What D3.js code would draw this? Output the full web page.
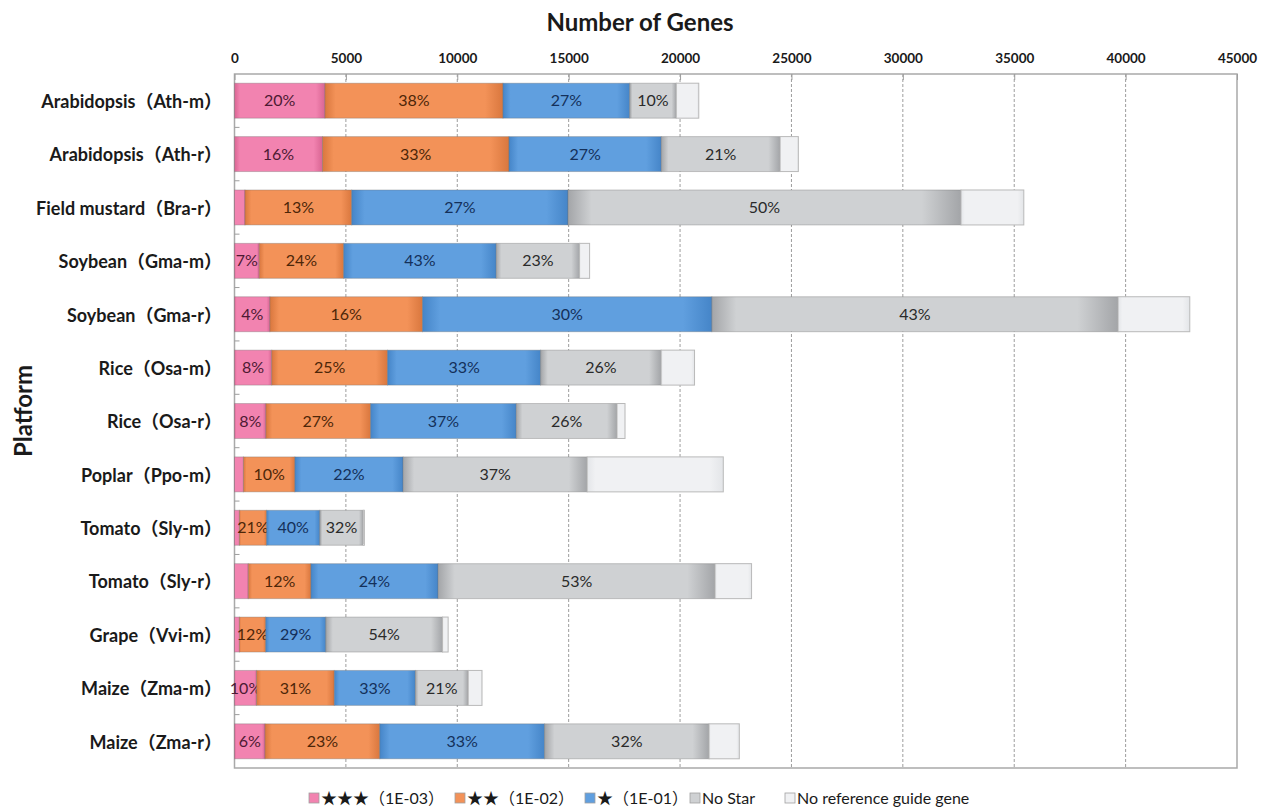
<!DOCTYPE html>
<html>
<head>
<meta charset="utf-8">
<script src="https://cdn.jsdelivr.net/npm/d3@7"></script>
<style>
  html, body { margin: 0; padding: 0; background: #fff; }
  svg { display: block; font-family: Lato, "Noto Sans CJK JP", sans-serif; }
</style>
</head>
<body>
<div id="chart"></div>
<script>
// platforms, top to bottom
const platforms = [
  'Arabidopsis（Ath-m）', 'Arabidopsis（Ath-r）', 'Field mustard（Bra-r）',
  'Soybean（Gma-m）', 'Soybean（Gma-r）', 'Rice（Osa-m）', 'Rice（Osa-r）',
  'Poplar（Ppo-m）', 'Tomato（Sly-m）', 'Tomato（Sly-r）', 'Grape（Vvi-m）',
  'Maize（Zma-m）', 'Maize（Zma-r）'
];

const seriesNames = ['★★★（1E-03）', '★★（1E-02）', '★（1E-01）', 'No Star', 'No reference guide gene'];

// gene counts per series
const star3   = [4060, 3950,   470, 1110,  1590, 1670, 1410,  400,  220,   620,  220,  990, 1370];
const star2   = [7990, 8370,  4790, 3790,  6850, 5200, 4700, 2310, 1220,  2810, 1180, 3490, 5150];
const star1   = [5690, 6840,  9710, 6850, 12990, 6870, 6540, 4860, 2390,  5710, 2700, 3640, 7400];
const noStar  = [2090, 5330, 17640, 3740, 18230, 5410, 4520, 8260, 1950, 12430, 5240, 2370, 7380];
const noRef   = [1010,  820,  2820,  450,  3220, 1500,  360, 6110,   50,  1640,  250,  620, 1360];

// percentage labels printed inside the segments
const star3Pct  = ['20%', '16%', null, '7%', '4%', '8%', '8%', null, null, null, null, '10%', '6%'];
const star2Pct  = ['38%', '33%', '13%', '24%', '16%', '25%', '27%', '10%', '21%', '12%', '12%', '31%', '23%'];
const star1Pct  = ['27%', '27%', '27%', '43%', '30%', '33%', '37%', '22%', '40%', '24%', '29%', '33%', '33%'];
const noStarPct = ['10%', '21%', '50%', '23%', '43%', '26%', '26%', '37%', '32%', '53%', '54%', '21%', '32%'];
const noRefPct  = platforms.map(() => null);

const xTicks = [0, 5000, 10000, 15000, 20000, 25000, 30000, 35000, 40000, 45000];

const W = 1263, H = 809;
const plotLeft = 234.5, plotRight = 1237, plotTop = 74, plotBottom = 768;

const keys = ['s3', 's2', 's1', 'ns', 'nr'];
const values = [star3, star2, star1, noStar, noRef];
const pcts = [star3Pct, star2Pct, star1Pct, noStarPct, noRefPct];

// colours: [base, edge, text]
const palette = {
  s3: ['#f283b0', '#d96593', '#4d1a33'],
  s2: ['#f39258', '#d9773e', '#4d2608'],
  s1: ['#609fdf', '#4585c8', '#14305a'],
  ns: ['#cfd1d3', '#a3a5a8', '#2a2a2a'],
  nr: ['#f0f1f3', '#e3e5e8', '#333']
};

const table = platforms.map((p, i) => {
  const row = { platform: p, idx: i };
  keys.forEach((k, j) => { row[k] = values[j][i]; });
  return row;
});

const stacked = d3.stack().keys(keys)(table);

const svg = d3.select('#chart').append('svg')
  .attr('width', W)
  .attr('height', H);

const defs = svg.append('defs');
keys.forEach(k => {
  const g = defs.append('linearGradient')
    .attr('id', 'grad-' + k)
    .attr('x1', 0).attr('x2', 1).attr('y1', 0).attr('y2', 0);
  g.append('stop').attr('offset', 0).attr('stop-color', palette[k][1]);
  g.append('stop').attr('offset', 0.06).attr('stop-color', palette[k][0]);
  g.append('stop').attr('offset', 0.9).attr('stop-color', palette[k][0]);
  g.append('stop').attr('offset', 1).attr('stop-color', palette[k][1]);
});

const x = d3.scaleLinear().domain([0, 45000]).range([plotLeft, plotRight]);
const y = d3.scaleBand().domain(platforms).range([plotTop, plotBottom])
  .paddingInner(0.345).paddingOuter(0.1725);

// dashed gridlines
svg.append('g')
  .selectAll('line')
  .data(xTicks.slice(1, -1))
  .join('line')
  .attr('x1', d => x(d)).attr('x2', d => x(d))
  .attr('y1', plotTop).attr('y2', plotBottom)
  .attr('stroke', '#9d9d9d')
  .attr('stroke-width', 1)
  .attr('stroke-dasharray', '3,2');

// plot area frame
svg.append('rect')
  .attr('x', plotLeft).attr('y', plotTop)
  .attr('width', plotRight - plotLeft).attr('height', plotBottom - plotTop)
  .attr('fill', 'none')
  .attr('stroke', '#a9a9a9')
  .attr('stroke-width', 1.5);

// top axis
const xAxis = d3.axisTop(x).tickValues(xTicks).tickFormat(d3.format('d')).tickSize(-6).tickPadding(11);
const gx = svg.append('g').attr('transform', `translate(0,${plotTop})`).call(xAxis);
gx.select('.domain').remove();
gx.selectAll('.tick line').attr('stroke', '#9d9d9d');
gx.selectAll('.tick text')
  .attr('font-family', 'Lato, sans-serif')
  .attr('font-size', 13.5)
  .attr('font-weight', 700)
  .attr('fill', '#1a1a1a');

// left axis ticks on row boundaries
const step = y.step();
svg.append('g')
  .selectAll('line')
  .data(d3.range(1, platforms.length))
  .join('line')
  .attr('x1', plotLeft).attr('x2', plotLeft + 5)
  .attr('y1', d => plotTop + d * step).attr('y2', d => plotTop + d * step)
  .attr('stroke', '#9d9d9d');

// category labels
svg.append('g')
  .selectAll('text')
  .data(platforms)
  .join('text')
  .attr('x', 222)
  .attr('y', d => y(d) + y.bandwidth() / 2 + 1)
  .attr('dy', '0.35em')
  .attr('text-anchor', 'end')
  .attr('font-size', 18)
  .attr('font-weight', 700)
  .attr('fill', '#1a1a1a')
  .text(d => d);

// bars
const layers = svg.append('g')
  .selectAll('g')
  .data(stacked)
  .join('g');

layers.selectAll('rect')
  .data(d => d.map(s => ({ key: d.key, s })))
  .join('rect')
  .attr('x', d => x(d.s[0]))
  .attr('y', d => y(d.s.data.platform))
  .attr('width', d => x(d.s[1]) - x(d.s[0]))
  .attr('height', y.bandwidth())
  .attr('fill', d => `url(#grad-${d.key})`)
  .attr('stroke', d => d.key === 'nr' ? '#b9b9b9' : 'rgba(110,110,110,0.35)')
  .attr('stroke-width', 1);

// percentage labels
layers.selectAll('text')
  .data(d => d.map(s => ({ key: d.key, s, label: pcts[keys.indexOf(d.key)][s.data.idx] }))
    .filter(d => d.label))
  .join('text')
  .attr('x', d => (x(d.s[0]) + x(d.s[1])) / 2)
  .attr('y', d => y(d.s.data.platform) + y.bandwidth() / 2)
  .attr('dy', '0.35em')
  .attr('text-anchor', 'middle')
  .attr('font-size', 16)
  .attr('fill', d => palette[d.key][2])
  .text(d => d.label);

// titles
svg.append('text')
  .attr('x', 640).attr('y', 23)
  .attr('dy', '0.35em')
  .attr('text-anchor', 'middle')
  .attr('font-size', 24)
  .attr('font-weight', 700)
  .attr('fill', '#1a1a1a')
  .text('Number of Genes');

svg.append('text')
  .attr('transform', 'translate(24,411) rotate(-90)')
  .attr('dy', '0.35em')
  .attr('text-anchor', 'middle')
  .attr('font-size', 24)
  .attr('font-weight', 700)
  .attr('fill', '#1a1a1a')
  .text('Platform');

// legend
const legendX = [309, 455, 585, 690, 785];
const legend = svg.append('g')
  .selectAll('g')
  .data(keys)
  .join('g')
  .attr('transform', (d, i) => `translate(${legendX[i]},798)`);

legend.append('rect')
  .attr('x', 0).attr('y', -5)
  .attr('width', 10).attr('height', 10)
  .attr('fill', d => palette[d][0])
  .attr('stroke', '#a0a0a0')
  .attr('stroke-width', 0.8);

legend.append('text')
  .attr('x', 12).attr('y', 0)
  .attr('dy', '0.35em')
  .attr('font-size', 16)
  .attr('fill', '#1a1a1a')
  .text((d, i) => seriesNames[i]);
</script>
</body>
</html>
